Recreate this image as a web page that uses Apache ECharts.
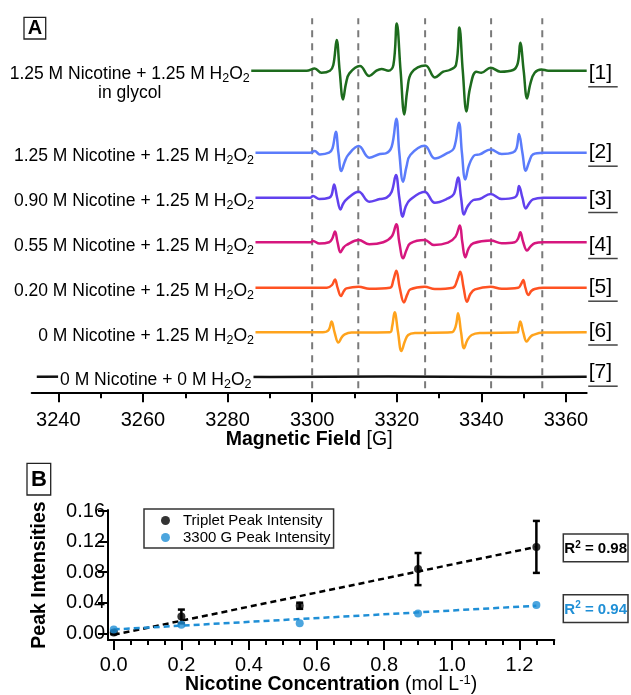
<!DOCTYPE html>
<html><head><meta charset="utf-8">
<script src="https://cdn.jsdelivr.net/npm/echarts@6/dist/echarts.min.js"></script>
<style>html,body{margin:0;padding:0;background:#fff}#c{width:631px;height:695px}</style>
</head><body><div id="c"></div>
<script>
// ---------------- Panel A data (field in G, intensity in a.u.) ----------------
const fieldTicks = [3240, 3260, 3280, 3300, 3320, 3340, 3360];
const fieldMinorTicks = [3250, 3270, 3290, 3310, 3330, 3350];
const dashedFields = [3300, 3310.9, 3326.7, 3342.3, 3354.4];
const traceOffsets = [321.6, 239.6, 194.6, 150.0, 104.6, 60.0, 15.6];
const traceNames = ['[1]', '[2]', '[3]', '[4]', '[5]', '[6]', '[7]'];
const traceLabels = [
  '1.25 M Nicotine + 1.25 M H{s|2}O{s|2}',
  '1.25 M Nicotine + 1.25 M H{s|2}O{s|2}',
  '0.90 M Nicotine + 1.25 M H{s|2}O{s|2}',
  '0.55 M Nicotine + 1.25 M H{s|2}O{s|2}',
  '0.20 M Nicotine + 1.25 M H{s|2}O{s|2}',
  '0 M Nicotine + 1.25 M H{s|2}O{s|2}',
  '0 M Nicotine + 0 M H{s|2}O{s|2}'
];
const traceColors = ['#1d6b1d', '#5b7cfb', '#6141ee', '#d6167e', '#ff5222', '#ffa31c', '#111111'];

const traceGlycol125 = [[3285.6,0],[3298.7,0],[3300.6,2.3],[3302.2,-2],[3304.2,0],[3305.0,5.7],[3305.8,30.7],[3306.5,0],[3307.3,-28.7],[3308.0,-12.7],[3308.8,-2.7],[3311.3,4.7],[3313.5,-5.3],[3315.2,0],[3316.4,1.7],[3318.0,0],[3319.2,5.7],[3320.0,47.3],[3320.9,0],[3321.8,-43.7],[3322.5,-19.3],[3323.5,-2],[3326.8,5.3],[3329.0,-6.7],[3331.0,-1],[3332.5,0.7],[3334.0,5.7],[3334.8,43.3],[3335.6,0],[3336.5,-40.7],[3337.3,-17.7],[3338.8,-1],[3340.0,-2],[3342.2,3],[3344.5,-1],[3347.5,0.7],[3348.6,7.3],[3349.2,28],[3350.0,0],[3350.8,-27.7],[3351.6,-12.7],[3352.6,-2],[3354.2,1.3],[3355.8,0],[3364.9,0]];
const trace125 = [[3286.6,0],[3299.5,0],[3300.6,1.7],[3301.8,-1.7],[3304.0,0],[3304.8,4.3],[3305.6,21],[3306.2,0],[3306.9,-18.3],[3307.7,-9],[3308.5,-2.3],[3311.0,6.7],[3313.5,-5],[3316.0,-1.3],[3317.4,-0.7],[3318.8,6],[3319.9,34],[3320.6,0],[3321.5,-29],[3322.3,-14],[3323.2,-2.3],[3326.6,7],[3329.0,-5.7],[3331.8,-0.7],[3333.5,4.3],[3334.7,30],[3335.4,0],[3336.2,-26.7],[3337.1,-12.3],[3338.5,-2.3],[3339.6,-1.7],[3342.2,3.3],[3344.8,-1.3],[3347.5,0.3],[3348.3,4.3],[3348.9,18.7],[3349.7,0],[3350.5,-18],[3351.3,-9],[3352.2,-1.7],[3354.6,0],[3364.9,0]];
const trace090 = [[3286.6,0],[3299.5,0],[3300.2,1.7],[3301.7,-1.3],[3304.0,0],[3304.6,2.7],[3305.2,13.3],[3305.9,0],[3306.7,-11.7],[3307.3,-6.3],[3308.1,-1.7],[3311.0,6],[3313.5,-4],[3316.0,-1.3],[3317.6,0],[3318.8,6],[3319.8,22.7],[3320.6,0],[3321.4,-19],[3322.1,-9],[3323.1,-2.3],[3326.6,6],[3329.0,-5],[3332.1,-0.7],[3333.5,3.7],[3334.5,20.3],[3335.2,0],[3335.9,-16.7],[3336.7,-9],[3338.1,-2.3],[3339.6,-1.3],[3342.2,3.7],[3344.8,-1.3],[3347.9,0.3],[3348.5,3.7],[3348.9,11.7],[3349.7,0],[3350.5,-10.7],[3351.3,-5.7],[3352.2,-1.7],[3354.6,0],[3364.9,0]];
const trace055 = [[3286.6,0],[3299.5,0],[3300.2,1.3],[3301.7,-1.3],[3304.0,0],[3304.7,3.3],[3305.4,10.7],[3306.0,0],[3306.7,-10],[3307.4,-5.3],[3308.1,-2.7],[3311.0,2.3],[3313.5,-2],[3316.8,0],[3318.8,5.7],[3319.9,18],[3320.6,0],[3321.5,-16],[3322.3,-7.7],[3323.2,-1],[3326.6,2.3],[3328.8,-2.7],[3332.1,-0.3],[3333.9,5.7],[3334.9,16.7],[3335.5,0],[3336.2,-15],[3337.0,-6],[3338.1,-1],[3342.2,1.7],[3344.8,-1],[3347.9,0],[3348.7,4],[3349.2,10],[3349.9,0],[3350.8,-8.3],[3351.6,-4.3],[3352.6,-1],[3354.6,0],[3364.9,0]];
const trace020 = [[3286.6,0],[3303.5,0],[3304.7,2.7],[3305.4,8.3],[3306.0,0],[3306.8,-8.3],[3307.5,-3.3],[3308.1,-0.7],[3311.0,1],[3313.5,-1],[3318.4,0],[3319.2,7.7],[3319.9,17],[3320.7,0],[3321.7,-14.7],[3322.5,-6.7],[3323.2,-1.7],[3326.6,1],[3329.0,-1.3],[3333.3,0],[3334.3,7.7],[3335.0,16],[3335.8,0],[3336.6,-14],[3337.4,-6.3],[3338.5,-1.7],[3342.2,1],[3344.8,-1],[3348.7,0],[3349.4,3.7],[3349.9,7.7],[3350.4,0],[3351.1,-7.3],[3351.8,-3.3],[3352.6,-1.3],[3354.6,0],[3364.9,0]];
const trace000 = [[3286.6,0],[3302.5,0],[3303.9,2.3],[3304.6,10.7],[3305.3,0],[3306.2,-10.3],[3307.0,-5],[3307.7,-2],[3309.3,-0.3],[3318.4,0],[3318.9,5.7],[3319.5,20],[3320.3,0],[3321.1,-18.7],[3321.9,-9.3],[3322.7,-2.7],[3324.3,-0.7],[3332.9,0],[3333.9,5.7],[3334.5,19],[3335.2,0],[3335.9,-16],[3336.7,-7.7],[3337.7,-2.7],[3339.6,-0.7],[3348.5,0],[3348.8,4],[3349.2,10.7],[3349.9,0],[3350.7,-9.3],[3351.5,-5],[3352.2,-2.7],[3354.6,-0.3],[3364.9,0]];
const traceBlank = [[3234.9,0],[3262,0.3],[3290,-0.3],[3318,0.3],[3346,-0.3],[3364.9,0]];
const traces = [traceGlycol125, trace125, trace090, trace055, trace020, trace000, traceBlank];

// ---------------- Panel B data ----------------
const conc = [0, 0.2, 0.55, 0.9, 1.25];
const tripletIntensity = [0.001, 0.022, 0.036, 0.084, 0.113];
const tripletError = [0.002, 0.009, 0.004, 0.021, 0.034];
const peak3300Intensity = [0.005, 0.011, 0.013, 0.026, 0.037];
const tripletFit = [[0, -0.002], [1.25, 0.113]];
const peak3300Fit = [[0, 0.005], [1.25, 0.036]];
const concTicks = [0, 0.2, 0.4, 0.6, 0.8, 1.0, 1.2];
const concMinorTicks = [0.05,0.1,0.15,0.25,0.3,0.35,0.45,0.5,0.55,0.65,0.7,0.75,0.85,0.9,0.95,1.05,1.1,1.15,1.25,1.3];
const intensityTicks = [0, 0.04, 0.08, 0.12, 0.16];
const r2Labels = ['R{sup|2} = 0.98', 'R{sup|2} = 0.94'];

const FF = '"Liberation Sans", Arial, Helvetica, sans-serif';
const BLUE = '#1f8fd6';

const chart = echarts.init(document.getElementById('c'), null, {renderer: 'canvas', width: 631, height: 695});

const series = [];
dashedFields.forEach(f => {
  series.push({type: 'line', xAxisIndex: 0, yAxisIndex: 0, data: [[f, 4], [f, 374]], symbol: 'none', silent: true, z: 1,
    lineStyle: {color: '#7a7a7a', width: 2, type: [7, 6]}});
});
traces.forEach((t, i) => {
  series.push({type: 'line', xAxisIndex: 0, yAxisIndex: 0, showSymbol: false, symbol: 'none', silent: true, z: 3,
    smooth: 0.4,
    data: t.map(p => [p[0], p[1] + traceOffsets[i]]),
    lineStyle: {color: traceColors[i], width: 2.5, join: 'round'}});
});
// Panel B
series.push({type: 'line', xAxisIndex: 2, yAxisIndex: 1, data: tripletFit, symbol: 'none', silent: true, z: 2,
  lineStyle: {color: '#000', width: 2.5, type: [6, 4]}});
series.push({type: 'line', xAxisIndex: 2, yAxisIndex: 1, data: peak3300Fit, symbol: 'none', silent: true, z: 2,
  lineStyle: {color: BLUE, width: 2.5, type: [6, 4]}});
series.push({type: 'custom', xAxisIndex: 2, yAxisIndex: 1, z: 3, silent: true,
  data: conc.map((c, i) => [c, tripletIntensity[i] - tripletError[i], tripletIntensity[i] + tripletError[i]]),
  encode: {x: 0, y: [1, 2]},
  renderItem: (params, api) => {
    const x = api.value(0);
    const lo = api.coord([x, api.value(1)]);
    const hi = api.coord([x, api.value(2)]);
    const hw = 3.5, st = {stroke: '#000', lineWidth: 2.5};
    return {type: 'group', children: [
      {type: 'line', shape: {x1: lo[0], y1: lo[1], x2: hi[0], y2: hi[1]}, style: st},
      {type: 'line', shape: {x1: lo[0] - hw, y1: lo[1], x2: lo[0] + hw, y2: lo[1]}, style: st},
      {type: 'line', shape: {x1: hi[0] - hw, y1: hi[1], x2: hi[0] + hw, y2: hi[1]}, style: st}
    ]};
  }});
series.push({type: 'scatter', name: 'Triplet Peak Intensity', xAxisIndex: 2, yAxisIndex: 1, z: 4,
  data: conc.map((c, i) => [c, tripletIntensity[i]]), symbolSize: 8, itemStyle: {color: '#000'}});
series.push({type: 'scatter', name: '3300 G Peak Intensity', xAxisIndex: 2, yAxisIndex: 1, z: 4,
  data: conc.map((c, i) => [c, peak3300Intensity[i]]), symbolSize: 8, itemStyle: {color: BLUE}});

const axisBase = {type: 'value', splitLine: {show: false}, position: 'bottom'};
const option = {
  animation: false,
  backgroundColor: '#fff',
  textStyle: {fontFamily: FF},
  grid: [
    {left: 31.7, right: 44.3, top: 10, bottom: 302.7, outerBoundsMode: 'none', containLabel: false},
    {left: 108, right: 76.7, top: 510, bottom: 55, outerBoundsMode: 'none', containLabel: false}
  ],
  xAxis: [
    Object.assign({}, axisBase, {gridIndex: 0, min: 3233.7, max: 3364.9,
      axisLine: {onZero: false, lineStyle: {color: '#000', width: 2}},
      axisTick: {customValues: fieldTicks, length: 10, lineStyle: {color: '#000', width: 2}},
      axisLabel: {customValues: fieldTicks, fontSize: 20, color: '#000', margin: 18, fontFamily: FF,
        formatter: v => String(Math.round(v))},
      name: '{b|Magnetic Field} [G]', nameLocation: 'middle', nameGap: 36, nameMoveOverlap: false,
      nameTextStyle: {fontSize: 19.5, color: '#000', fontFamily: FF, lineHeight: 22,
        rich: {b: {fontSize: 19.5, fontWeight: 'bold', color: '#000', fontFamily: FF, lineHeight: 22}}}}),
    Object.assign({}, axisBase, {gridIndex: 0, min: 3233.7, max: 3364.9,
      axisLine: {show: false, onZero: false},
      axisTick: {customValues: fieldMinorTicks, length: 6, lineStyle: {color: '#000', width: 2}},
      axisLabel: {show: false}}),
    Object.assign({}, axisBase, {gridIndex: 1, min: -0.017, max: 1.303,
      axisLine: {onZero: false, lineStyle: {color: '#000', width: 2}},
      axisTick: {customValues: concTicks, length: 10, lineStyle: {color: '#000', width: 2}},
      axisLabel: {customValues: concTicks, fontSize: 20, color: '#000', margin: 15, fontFamily: FF,
        formatter: v => v.toFixed(1)},
      name: '{b|Nicotine Concentration} (mol L{sup|-1})', nameLocation: 'middle', nameGap: 34, nameMoveOverlap: false,
      nameTextStyle: {fontSize: 19.5, color: '#000', fontFamily: FF, lineHeight: 22,
        rich: {b: {fontSize: 19.5, fontWeight: 'bold', color: '#000', fontFamily: FF, lineHeight: 22},
               sup: {fontSize: 13, color: '#000', fontFamily: FF, lineHeight: 13, verticalAlign: 'top'}}}}),
    Object.assign({}, axisBase, {gridIndex: 1, min: -0.017, max: 1.303,
      axisLine: {show: false, onZero: false},
      axisTick: {customValues: concMinorTicks, length: 5, lineStyle: {color: '#000', width: 2}},
      axisLabel: {show: false}})
  ],
  yAxis: [
    {type: 'value', gridIndex: 0, min: 0, max: 382.3, show: false, splitLine: {show: false}},
    {type: 'value', gridIndex: 1, min: -0.0088, max: 0.1613, splitLine: {show: false},
      axisLine: {show: true, onZero: false, lineStyle: {color: '#000', width: 2}},
      axisTick: {show: true, customValues: intensityTicks, length: 10, lineStyle: {color: '#000', width: 2}},
      axisLabel: {customValues: intensityTicks, fontSize: 20, color: '#000', margin: 3, fontFamily: FF,
        formatter: v => v.toFixed(2)},
      name: 'Peak Intensities', nameLocation: 'middle', nameGap: 58, nameMoveOverlap: false,
      nameTextStyle: {fontSize: 19.5, fontWeight: 'bold', color: '#000', fontFamily: FF}}
  ],
  legend: {
    data: ['Triplet Peak Intensity', '3300 G Peak Intensity'],
    orient: 'vertical', left: 144, top: 509, icon: 'circle',
    itemWidth: 9, itemHeight: 9, itemGap: 2,
    padding: [4, 3, 3, 17],
    borderColor: '#333', borderWidth: 1.5, backgroundColor: '#fff',
    textStyle: {fontSize: 15, color: '#000', fontFamily: FF, lineHeight: 15, padding: [0, 0, 0, 8]}
  },
  series: series
};
chart.setOption(option);

// ---------------- annotations anchored to data coordinates ----------------
const toPx = (g, v) => chart.convertToPixel({gridIndex: 0}, [g, v]);
const ctx = document.createElement('canvas').getContext('2d');
function measureLabel(t) {
  ctx.font = '17.5px ' + FF;
  const plain = t.replace(/\{s\|2\}/g, '');
  let w = ctx.measureText(plain).width;
  ctx.font = '12.5px ' + FF;
  w += 2 * ctx.measureText('2').width;
  return w;
}
const graphics = [];
const subRich = {s: {fontSize: 12.5, fontFamily: FF, fill: '#000', lineHeight: 13, verticalAlign: 'bottom'}};
const bracketDy = [2.6, 0, 1.3, 2.7, 0, -0.8, -4];
traces.forEach((t, i) => {
  const last = t[t.length - 1];
  const endPx = toPx(last[0], traceOffsets[i]);
  const labelRight = (i === 6) ? toPx(3286.6, traceOffsets[i])[0] - 2 : toPx(t[0][0], traceOffsets[i])[0] - 1.5;
  const yMid = endPx[1] + 3.5;
  graphics.push({type: 'text', x: labelRight, y: yMid, z: 10,
    style: {text: traceLabels[i], fill: '#000', fontSize: 17.5, fontFamily: FF, align: 'right', verticalAlign: 'middle',
      lineHeight: 22, rich: subRich, backgroundColor: i === 6 ? '#fff' : null, padding: i === 6 ? [0, 2, 0, 2] : 0}});
  if (i === 0) {
    const w = measureLabel(traceLabels[0]);
    graphics.push({type: 'text', x: labelRight - w / 2, y: endPx[1] + 22, z: 10,
      style: {text: 'in glycol', fill: '#000', fontSize: 17.5, fontFamily: FF, align: 'center', verticalAlign: 'middle'}});
  }
  const by = endPx[1] + bracketDy[i];
  graphics.push({type: 'text', x: endPx[0] + 2, y: by, z: 10,
    style: {text: traceNames[i], fill: '#000', fontSize: 21, fontFamily: FF, align: 'left', verticalAlign: 'middle'}});
  graphics.push({type: 'line', z: 10, shape: {x1: endPx[0] + 1.5, y1: by + 13.5, x2: endPx[0] + 31, y2: by + 13.5},
    style: {stroke: '#444', lineWidth: 1.5}});
});
// panel tags
graphics.push({type: 'rect', shape: {x: 24, y: 17.3, width: 21.7, height: 21.7}, style: {fill: '#fff', stroke: '#222', lineWidth: 1.3}});
graphics.push({type: 'text', x: 34.9, y: 28.5, style: {text: 'A', fill: '#000', fontSize: 20, fontWeight: 'bold', fontFamily: FF, align: 'center', verticalAlign: 'middle'}});
graphics.push({type: 'rect', shape: {x: 27, y: 463.3, width: 23.7, height: 31.7}, style: {fill: '#fff', stroke: '#222', lineWidth: 1.3}});
graphics.push({type: 'text', x: 38.9, y: 479.5, style: {text: 'B', fill: '#000', fontSize: 22, fontWeight: 'bold', fontFamily: FF, align: 'center', verticalAlign: 'middle'}});
// R^2 boxes
const r2Colors = ['#000', BLUE];
const r2Y = [547.9, 608.5];
r2Labels.forEach((t, i) => {
  const yc = r2Y[i];
  graphics.push({type: 'rect', shape: {x: 563.3, y: yc - 13.8, width: 64.7, height: 27.7}, style: {fill: '#fff', stroke: '#333', lineWidth: 1.5}});
  graphics.push({type: 'text', x: 595.7, y: yc + 1, style: {text: t, fill: r2Colors[i], fontSize: 15, fontWeight: 'bold', fontFamily: FF,
    align: 'center', verticalAlign: 'middle', lineHeight: 18,
    rich: {sup: {fontSize: 10, fontWeight: 'bold', fontFamily: FF, fill: r2Colors[i], lineHeight: 10, verticalAlign: 'top'}}}});
});
chart.setOption({graphic: graphics});
</script></body></html>
